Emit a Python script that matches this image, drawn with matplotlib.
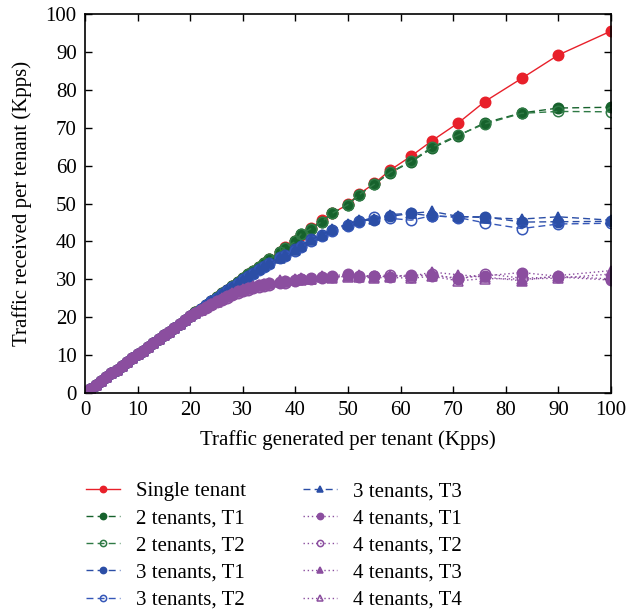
import matplotlib
matplotlib.use("Agg")
import matplotlib.pyplot as plt

plt.rcParams["font.family"] = ["Liberation Serif", "DejaVu Serif"]

# generated rate per tenant (Kpps)
x_low = [1, 2, 3, 4, 5, 6, 7, 8, 9, 10, 11, 12, 13, 14, 15, 16, 17, 18, 19, 20]
x_high = [21, 22, 23, 24, 25, 26, 27, 28, 29, 30, 31, 32, 33, 34, 35, 37, 38,
          40, 41, 43, 45, 47, 50, 52, 55, 58, 62, 66, 71, 76, 83, 90, 100]

# received rate below 20 Kpps is the same for every run
recv_low = [1.1, 2.1, 3.2, 4.2, 5.2, 6.2, 7.2, 8.2, 9.2, 10.2, 11.2, 12.2, 13.2,
            14.2, 15.2, 16.2, 17.2, 18.2, 19.2, 20.2]

single = [21.3, 22.3, 23.3, 24.3, 25.3, 26.3, 27.3, 28.3, 29.3, 30.3, 31.3, 32.3,
          33.3, 34.3, 35.4, 37.3, 38.4, 40.2, 41.8, 43.5, 45.6, 47.4, 49.8, 52.4,
          55.3, 58.8, 62.5, 66.6, 71.3, 76.9, 83.0, 89.2, 95.5]

two_t1 = [21.3, 22.3, 23.3, 24.3, 25.3, 26.3, 27.3, 28.3, 29.3, 30.3, 31.3, 32.3,
          33.3, 34.3, 35.3, 37.2, 38.3, 40.0, 41.9, 43.4, 45.2, 47.4, 49.7, 52.2,
          55.1, 58.1, 61.0, 64.6, 67.9, 71.3, 73.9, 75.2, 75.4]
two_t2 = [21.3, 22.3, 23.3, 24.3, 25.3, 26.3, 27.3, 28.3, 29.3, 30.3, 31.3, 32.3,
          33.3, 34.3, 35.3, 37.2, 38.3, 40.0, 41.9, 43.4, 45.2, 47.4, 49.7, 52.2,
          55.1, 58.2, 61.2, 64.9, 68.1, 71.0, 73.8, 74.3, 74.2]

three_t1 = [21.2, 22.2, 23.2, 24.2, 25.2, 26.2, 27.1, 28.1, 29.0, 30.0, 30.9, 31.8,
            32.7, 33.5, 34.3, 35.8, 36.5, 37.9, 38.9, 40.6, 41.6, 43.1, 44.3, 45.4,
            45.7, 46.6, 47.4, 46.7, 46.5, 46.5, 45.1, 45.2, 45.3]
three_t2 = [21.2, 22.2, 23.2, 24.2, 25.1, 26.1, 27.0, 27.9, 28.8, 29.7, 30.6, 31.5,
            32.4, 33.2, 34.0, 35.5, 36.2, 37.5, 38.5, 40.2, 41.3, 42.8, 44.0, 45.1,
            46.5, 46.1, 45.6, 46.8, 46.3, 44.9, 43.4, 44.6, 44.8]
three_t3 = [21.2, 22.2, 23.2, 24.2, 25.2, 26.1, 27.1, 28.0, 28.9, 29.9, 30.8, 31.7,
            32.6, 33.4, 34.2, 35.7, 36.4, 37.8, 38.8, 40.5, 41.7, 43.3, 44.6, 45.6,
            45.8, 47.1, 47.4, 47.9, 46.6, 46.3, 45.9, 46.5, 45.6]

four_t1 = [21.1, 21.9, 22.7, 23.5, 24.2, 24.9, 25.6, 26.2, 26.8, 27.3, 27.7, 28.1,
           28.4, 28.7, 29.0, 29.3, 29.5, 29.8, 30.1, 30.4, 30.6, 30.5, 31.2, 30.9,
           31.0, 30.7, 31.2, 30.9, 30.4, 30.9, 31.8, 30.8, 30.1]
four_t2 = [21.0, 21.8, 22.5, 23.2, 23.9, 24.6, 25.2, 25.8, 26.4, 26.9, 27.3, 27.7,
           28.0, 28.2, 28.4, 28.9, 29.1, 29.6, 30.0, 30.2, 30.3, 30.9, 31.4, 30.5,
           30.8, 31.2, 30.6, 31.4, 30.0, 31.5, 30.3, 30.6, 29.8]
four_t3 = [21.2, 22.0, 22.8, 23.6, 24.3, 25.0, 25.7, 26.3, 26.9, 27.4, 27.8, 28.2,
           28.5, 28.8, 29.1, 29.8, 29.6, 30.2, 30.3, 30.1, 30.8, 30.4, 30.9, 31.2,
           30.5, 30.9, 30.8, 31.9, 31.2, 30.6, 29.6, 31.0, 32.3]
four_t4 = [21.1, 21.9, 22.6, 23.4, 24.1, 24.8, 25.4, 26.0, 26.6, 27.1, 27.5, 27.9,
           28.2, 28.5, 28.8, 29.2, 29.4, 29.7, 29.9, 30.2, 30.5, 30.6, 30.7, 30.6,
           30.4, 30.5, 30.3, 30.8, 29.6, 30.2, 30.1, 30.3, 31.4]

x = x_low + x_high

RED = "#e8202a"
GREEN1 = "#16622c"
GREEN2 = "#2f7a45"
BLUE1 = "#2b4ea6"
BLUE2 = "#3557b8"
PURPLE = "#8b4e9f"

SOLID = "-"
DASH = (0, (5, 3))
DOT = (0, (1, 2))

series = [
    ("Single tenant", single, RED, SOLID, "o", True),
    ("2 tenants, T1", two_t1, GREEN1, DASH, "o", True),
    ("2 tenants, T2", two_t2, GREEN2, DASH, "o", False),
    ("3 tenants, T1", three_t1, BLUE1, DASH, "o", True),
    ("3 tenants, T2", three_t2, BLUE2, DASH, "o", False),
    ("3 tenants, T3", three_t3, BLUE1, DASH, "^", True),
    ("4 tenants, T1", four_t1, PURPLE, DOT, "o", True),
    ("4 tenants, T2", four_t2, PURPLE, DOT, "o", False),
    ("4 tenants, T3", four_t3, PURPLE, DOT, "^", True),
    ("4 tenants, T4", four_t4, PURPLE, DOT, "^", False),
]

fig = plt.figure(figsize=(6.26, 6.10), dpi=100)
ax = fig.add_axes([0.1358, 0.3557, 0.8402, 0.6213])

for label, high, col, ls, mk, filled in series:
    y = recv_low + high
    ax.plot(x, y, linestyle=ls, color=col, linewidth=1.0,
            marker=mk, markersize=7.5,
            markerfacecolor=col if filled else "none",
            markeredgecolor=col, markeredgewidth=1.1,
            label=label)

ax.set_xlim(0, 100)
ax.set_ylim(0, 100)
ax.set_xticks(range(0, 101, 10))
ax.set_yticks(range(0, 101, 10))
ax.tick_params(direction="in", length=5, width=1, top=True, right=True,
               labelsize=15, pad=6)
for s in ax.spines.values():
    s.set_linewidth(1.2)

ax.set_xlabel("Traffic generated per tenant (Kpps)", fontsize=15, labelpad=7)
ax.set_ylabel("Traffic received per tenant (Kpps)", fontsize=15, labelpad=10)

leg = fig.legend(loc="upper left", bbox_to_anchor=(0.137, 0.21), ncol=2,
                 frameon=False, fontsize=15, markerscale=0.6,
                 handlelength=1.65, handletextpad=0.75, columnspacing=2.75,
                 labelspacing=0.36, borderpad=0, borderaxespad=0)

fig.savefig("out.png", dpi=100)
